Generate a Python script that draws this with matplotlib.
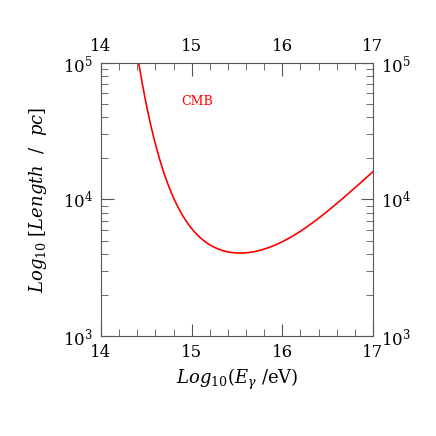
import numpy as np
import matplotlib.pyplot as plt
from matplotlib.ticker import MultipleLocator, LogLocator, NullFormatter

plt.rcParams['font.family'] = 'DejaVu Serif'
plt.rcParams['mathtext.fontset'] = 'dejavuserif'

# log10(E/eV) and log10 of attenuation length (pc)
log_e = [14.419, 14.467, 14.533, 14.577, 14.651, 14.724, 14.797, 14.908, 15.055,
         15.202, 15.312, 15.503, 15.65, 15.827, 16.0, 16.195, 16.40, 16.563,
         16.80, 17.0]
log_len = [5.0, 4.79, 4.586, 4.466, 4.30, 4.14, 4.015, 3.866, 3.744,
           3.670, 3.634, 3.606, 3.615, 3.642, 3.69, 3.764, 3.866, 3.947,
           4.086, 4.204]

# smooth line through the read points
coef = np.polyfit(log_e, log_len, 6)
xs = np.linspace(log_e[0], log_e[-1], 400)
ys = np.polyval(coef, xs)

fig = plt.figure(figsize=(4.36, 4.36), dpi=100)
ax = fig.add_axes([0.2317, 0.2294, 0.6238, 0.6261])
ax.plot(xs, 10 ** ys, color='red', lw=1.2)
ax.set_xlim(14, 17)
ax.set_yscale('log')
ax.set_ylim(1e3, 1e5)

ax.xaxis.set_major_locator(MultipleLocator(1))
ax.xaxis.set_minor_locator(MultipleLocator(0.2))
ax.yaxis.set_major_locator(LogLocator(base=10))
ax.yaxis.set_minor_locator(LogLocator(base=10, subs=np.arange(2, 10)))
ax.yaxis.set_minor_formatter(NullFormatter())

gray = '#555555'
for s in ax.spines.values():
    s.set_color(gray)
ax.tick_params(which='both', direction='in', top=True, right=True,
               labeltop=True, labelright=True, color=gray, labelsize=12,
               labelcolor='black')
ax.tick_params(which='major', length=9, pad=6)
ax.tick_params(which='minor', length=4.7)

ax.text(15.06, 10 ** 4.72, 'CMB', color='red', fontsize=9, ha='center', va='center')

ax.set_xlabel(r'$Log_{10}(E_\gamma\ /\mathrm{eV})$', fontsize=13, labelpad=4)
ax.set_ylabel(r'$Log_{10}\ [Length\ \ /\ \ pc]$', fontsize=13, labelpad=10)

fig.savefig('out.png', dpi=100)
